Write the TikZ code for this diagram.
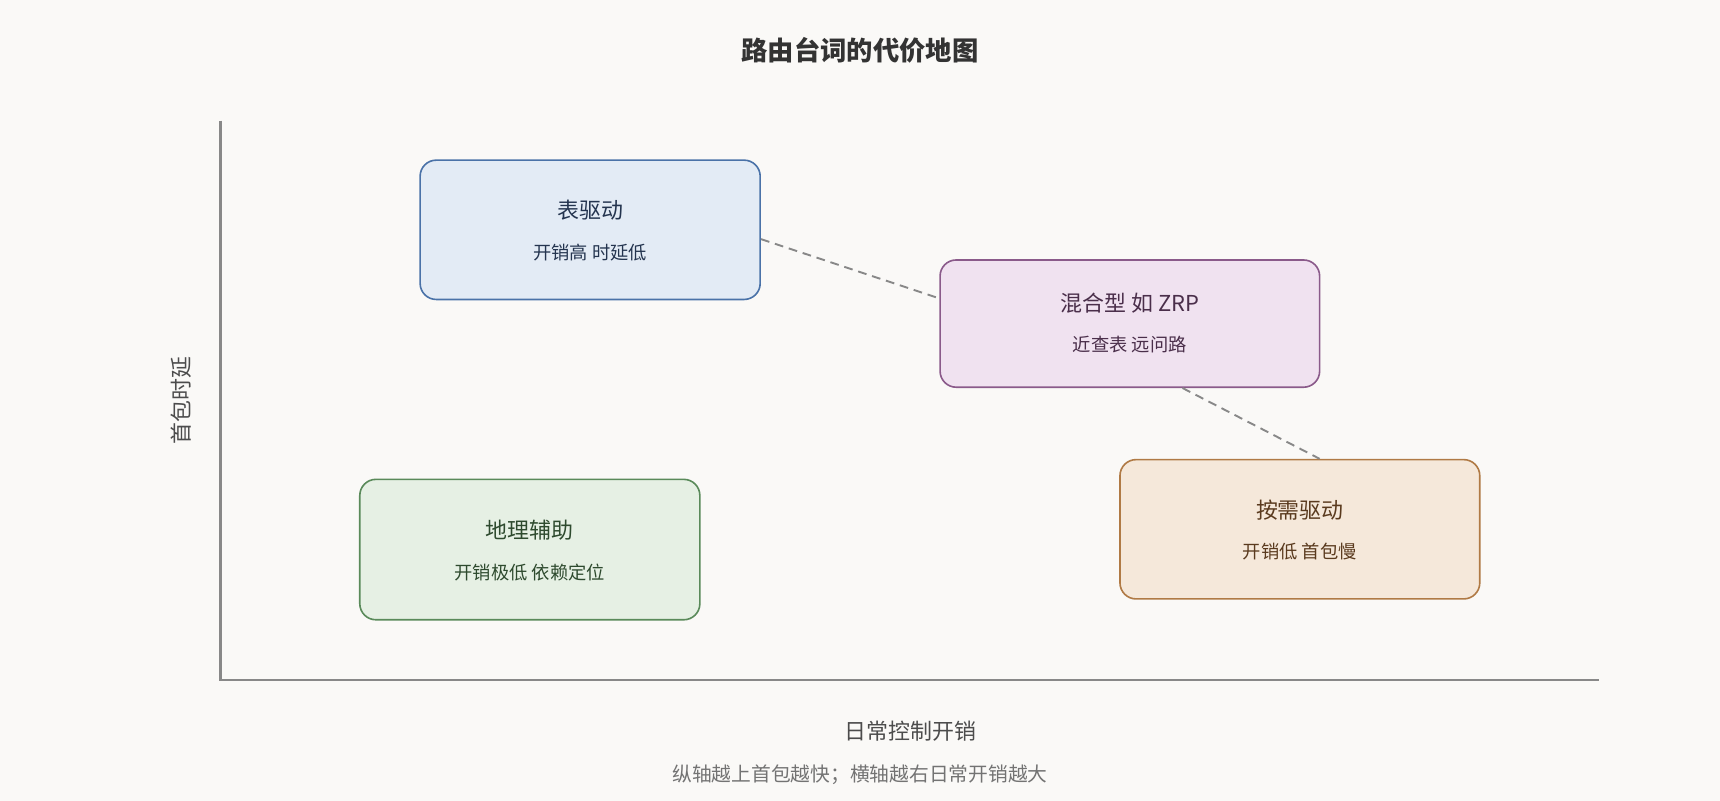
\documentclass[tikz,border=0pt]{standalone}
\usepackage{fontspec}
\setmainfont{Noto Sans CJK SC}
\usetikzlibrary{calc}
\definecolor{bg}{HTML}{FAF9F7}
\definecolor{bf}{HTML}{E3EBF5}\definecolor{bd}{HTML}{4A72A8}\definecolor{bt}{HTML}{24344F}
\definecolor{pf}{HTML}{F0E2F0}\definecolor{pd}{HTML}{8A5A8A}\definecolor{pt}{HTML}{4A2E4A}
\definecolor{gf}{HTML}{E6F0E4}\definecolor{gd}{HTML}{5A8A5A}\definecolor{gt}{HTML}{2E4A2E}
\definecolor{of}{HTML}{F5E8DA}\definecolor{od}{HTML}{B07A45}\definecolor{ot}{HTML}{5A3A1E}
\definecolor{ax}{HTML}{888888}
\begin{document}
\begin{tikzpicture}[x=0.75pt,y=-0.75pt,
 box/.style={draw,line width=1.1pt,rounded corners=11pt,inner sep=0pt,align=center},
 ttl/.style={font=\fontsize{15}{18}\selectfont},
 sub/.style={font=\fontsize{12.5}{15}\selectfont},
 dashline/.style={draw=ax,line width=1.3pt,dash pattern=on 6pt off 4pt}]
\fill[bg] (0,0) rectangle (1568,730);
\useasboundingbox (0,0) rectangle (1568,730);
\node[font=\bfseries\fontsize{18}{22}\selectfont,text=black!80] (title) at (784,46) {路由台词的代价地图};
\coordinate (o) at (201,620);
\coordinate (yt) at (201,110);
\coordinate (xr) at (1458,620);
\draw[ax,line width=1.8pt] (yt) -- (o) -- (xr);
\node[box,fill=bf,draw=bd,minimum width=310*0.75pt,minimum height=127*0.75pt] (tbl) at (538,209.5) {};
\node[ttl,text=bt] (tblT) at (538,192) {表驱动};
\node[sub,text=bt] (tblS) at (538,230) {开销高 时延低};
\node[box,fill=pf,draw=pd,minimum width=346*0.75pt,minimum height=116*0.75pt] (hyb) at (1030,295) {};
\node[ttl,text=pt] (hybT) at (1030,276) {混合型 如 ZRP};
\node[sub,text=pt] (hybS) at (1030,314) {近查表 远问路};
\node[box,fill=gf,draw=gd,minimum width=310*0.75pt,minimum height=128*0.75pt] (geo) at (483,501) {};
\node[ttl,text=gt] (geoT) at (483,483) {地理辅助};
\node[sub,text=gt] (geoS) at (483,522) {开销极低 依赖定位};
\node[box,fill=of,draw=od,minimum width=328*0.75pt,minimum height=127*0.75pt] (ond) at (1185,482.5) {};
\node[ttl,text=ot] (ondT) at (1185,465) {按需驱动};
\node[sub,text=ot] (ondS) at (1185,503) {开销低 首包慢};
\draw[dashline] ($(tbl.east)+(0,8.5)$) -- ($(hyb.west)+(0,-23)$);
\draw[dashline] ($(hyb.south)+(48,0)$) -- ($(ond.north)+(18,0)$);
\node[font=\fontsize{15}{18}\selectfont,text=black!70,rotate=90] (ylab) at (165,365) {首包时延};
\node[font=\fontsize{15}{18}\selectfont,text=black!70] (xlab) at (830,667) {日常控制开销};
\node[font=\fontsize{13.5}{16}\selectfont,text=black!55] (cap) at (784,706) {纵轴越上首包越快；横轴越右日常开销越大};
\end{tikzpicture}
\end{document}
